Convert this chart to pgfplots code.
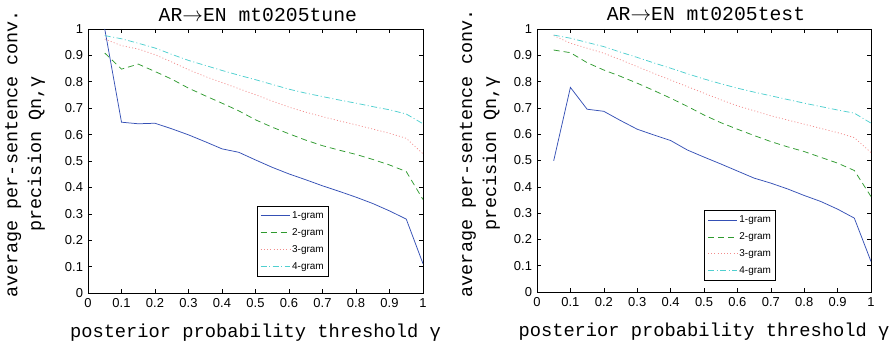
\documentclass[border=0pt]{standalone}
\usepackage{pgfplots}
\pgfplotsset{compat=1.18}
\usepackage{fontspec}
\setmainfont{Liberation Sans}
\newfontfamily\mono{Liberation Mono}
\definecolor{cB}{HTML}{3550B5}
\definecolor{cG}{HTML}{2E9A2E}
\definecolor{cP}{HTML}{F28B8B}
\definecolor{cC}{HTML}{4FCFCF}
\tikzset{ttl/.style={font=\mono\fontsize{19.8}{19.8}\selectfont, anchor=base, inner sep=0pt}}
\pgfplotsset{
  mystyle/.style={
    width=335bp, height=264bp, scale only axis,
    xmin=0, xmax=1, ymin=0, ymax=1,
    xtick={0,0.1,0.2,0.3,0.4,0.5,0.6,0.7,0.8,0.9,1},
    ytick={0,0.1,0.2,0.3,0.4,0.5,0.6,0.7,0.8,0.9,1},
    xticklabels={0,0.1,0.2,0.3,0.4,0.5,0.6,0.7,0.8,0.9,1},
    yticklabels={0,0.1,0.2,0.3,0.4,0.5,0.6,0.7,0.8,0.9,1},
    tick align=inside, major tick length=4bp,
    tick style={black, line width=0.6pt},
    axis line style={black, line width=0.9pt},
    ticklabel style={font=\fontsize{13}{13}\selectfont},
    xticklabel style={yshift=-2bp},
    yticklabel style={xshift=-1.5bp},
    xlabel style={font=\mono\fontsize{18.8}{18.8}\selectfont, at={(axis description cs:0.5,-0.1515)}, anchor=center},
    ylabel style={font=\mono\fontsize{18.5}{24}\selectfont, align=center, anchor=center},
    legend style={draw=black, line width=1pt, font=\fontsize{10}{10}\selectfont, anchor=south east, inner xsep=3bp, inner ysep=3.5bp, row sep=4.5bp, cells={anchor=west}},
    legend image code/.code={\draw[#1, line width=0.85pt] (0bp,0bp) -- (29bp,0bp);},
    xlabel={posterior probability threshold γ},
    ylabel={average per-sentence conv.\\precision Qn,γ},
    clip mode=individual,
  },
  s1/.style={color=cB, draw=cB, line width=0.75pt, solid},
  s2/.style={color=cG, draw=cG, line width=0.75pt, dash pattern=on 6bp off 4bp},
  s3/.style={color=cP, draw=cP, line width=0.75pt, dash pattern=on 1bp off 2.2bp},
  s4/.style={color=cC, draw=cC, line width=0.75pt, dash pattern=on 6bp off 2.5bp on 1bp off 2.5bp},
}
\begin{document}
\begin{tikzpicture}
\begin{axis}[mystyle,
  ylabel style={at={(axis description cs:-0.188,0.527)}},
  legend style={at={(rel axis cs:0.72,0.062)}}]
\addplot[s1] coordinates {(0.05,1.0) (0.1,0.647) (0.15,0.641) (0.2,0.643) (0.25,0.622) (0.3,0.599) (0.35,0.573) (0.4,0.546) (0.45,0.533) (0.5,0.504) (0.55,0.476) (0.6,0.451) (0.65,0.429) (0.7,0.406) (0.75,0.385) (0.8,0.363) (0.85,0.339) (0.9,0.311) (0.95,0.28) (1,0.111)};
\addplot[s2] coordinates {(0.05,0.909) (0.1,0.848) (0.15,0.867) (0.2,0.839) (0.25,0.81) (0.3,0.776) (0.35,0.747) (0.4,0.719) (0.45,0.69) (0.5,0.656) (0.55,0.628) (0.6,0.603) (0.65,0.579) (0.7,0.558) (0.75,0.541) (0.8,0.525) (0.85,0.506) (0.9,0.485) (0.95,0.46) (1,0.354)};
\addplot[s3] coordinates {(0.05,0.962) (0.1,0.937) (0.15,0.924) (0.2,0.903) (0.25,0.875) (0.3,0.846) (0.35,0.82) (0.4,0.797) (0.45,0.774) (0.5,0.751) (0.55,0.727) (0.6,0.704) (0.65,0.685) (0.7,0.668) (0.75,0.652) (0.8,0.637) (0.85,0.621) (0.9,0.605) (0.95,0.586) (1,0.527)};
\addplot[s4] coordinates {(0.05,0.975) (0.1,0.963) (0.15,0.946) (0.2,0.928) (0.25,0.904) (0.3,0.881) (0.35,0.862) (0.4,0.843) (0.45,0.825) (0.5,0.808) (0.55,0.79) (0.6,0.772) (0.65,0.757) (0.7,0.744) (0.75,0.731) (0.8,0.719) (0.85,0.706) (0.9,0.694) (0.95,0.678) (1,0.641)};
\legend{1-gram,2-gram,3-gram,4-gram}
\node[ttl] at (rel axis cs:0.507,1.028) {AR$\rightarrow$EN mt0205tune};
\end{axis}
\begin{axis}[mystyle, at={(449bp,1bp)}, height=263bp, width=334bp,
  ylabel style={at={(axis description cs:-0.171,0.527)}},
  legend style={at={(rel axis cs:0.717,0.042)}}]
\addplot[s1] coordinates {(0.05,0.499) (0.1,0.778) (0.15,0.695) (0.2,0.687) (0.25,0.652) (0.3,0.619) (0.35,0.597) (0.4,0.576) (0.45,0.54) (0.5,0.513) (0.55,0.487) (0.6,0.46) (0.65,0.433) (0.7,0.414) (0.75,0.392) (0.8,0.367) (0.85,0.344) (0.9,0.315) (0.95,0.281) (1,0.116)};
\addplot[s2] coordinates {(0.05,0.92) (0.1,0.91) (0.15,0.872) (0.2,0.844) (0.25,0.82) (0.3,0.794) (0.35,0.766) (0.4,0.737) (0.45,0.706) (0.5,0.673) (0.55,0.644) (0.6,0.619) (0.65,0.595) (0.7,0.572) (0.75,0.552) (0.8,0.534) (0.85,0.512) (0.9,0.49) (0.95,0.462) (1,0.363)};
\addplot[s3] coordinates {(0.05,0.975) (0.1,0.946) (0.15,0.927) (0.2,0.908) (0.25,0.883) (0.3,0.857) (0.35,0.831) (0.4,0.806) (0.45,0.781) (0.5,0.756) (0.55,0.731) (0.6,0.708) (0.65,0.689) (0.7,0.67) (0.75,0.654) (0.8,0.638) (0.85,0.622) (0.9,0.606) (0.95,0.587) (1,0.53)};
\addplot[s4] coordinates {(0.05,0.977) (0.1,0.965) (0.15,0.949) (0.2,0.933) (0.25,0.912) (0.3,0.892) (0.35,0.871) (0.4,0.851) (0.45,0.83) (0.5,0.81) (0.55,0.792) (0.6,0.775) (0.65,0.76) (0.7,0.746) (0.75,0.732) (0.8,0.718) (0.85,0.705) (0.9,0.692) (0.95,0.68) (1,0.642)};
\legend{1-gram,2-gram,3-gram,4-gram}
\node[ttl] at (rel axis cs:0.506,1.034) {AR$\rightarrow$EN mt0205test};
\end{axis}
\pgfresetboundingbox
\path[use as bounding box] (-88bp,-58bp) rectangle (807bp,293bp);
\end{tikzpicture}
\end{document}
